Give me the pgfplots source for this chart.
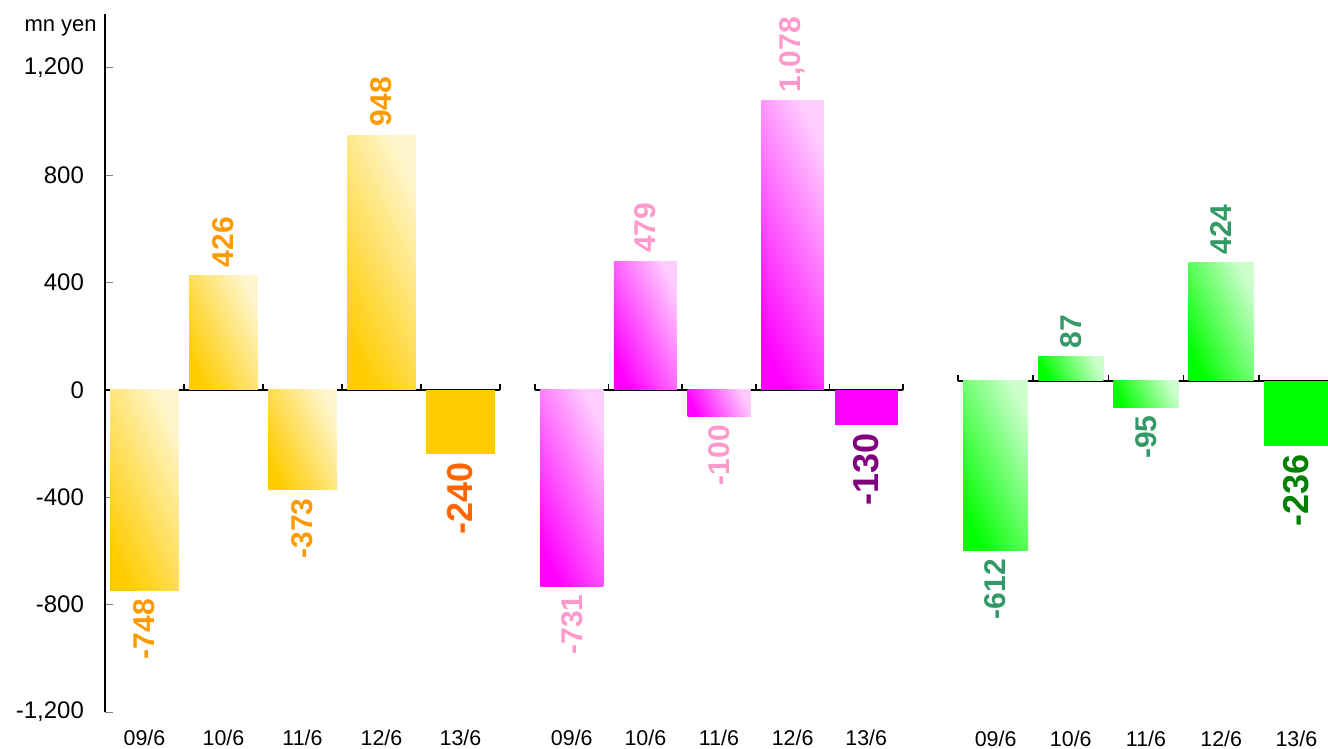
\documentclass[border=0pt]{standalone}
\usepackage{fontspec}
\setmainfont{Liberation Sans}
\usepackage{pgfplots}
\pgfplotsset{compat=1.18}
\definecolor{y1}{HTML}{FFCC00}
\definecolor{y2}{HTML}{FFF6CF}
\definecolor{m1}{HTML}{FF00FF}
\definecolor{m2}{HTML}{FFCCFF}
\definecolor{g1}{HTML}{00FF00}
\definecolor{g2}{HTML}{CCFFCC}
\definecolor{labO}{HTML}{FF9900}
\definecolor{labO2}{HTML}{FF6600}
\definecolor{labP}{HTML}{FF99CC}
\definecolor{labP2}{HTML}{800080}
\definecolor{labG}{HTML}{339966}
\definecolor{labG2}{HTML}{008000}
\tikzset{
  smlab/.style={font=\bfseries\fontsize{15}{18}\selectfont},
  biglab/.style={font=\bfseries\fontsize{18}{21}\selectfont},
}
\pgfplotsset{
  base/.style={
    scale only axis, anchor=south west, clip=false,
    xmin=-0.5, xmax=4.5,
    axis x line=middle,
    xtick={0,1,2,3,4}, xticklabels={09/6,10/6,11/6,12/6,13/6},
    minor xtick={-0.5,0.5,1.5,2.5,3.5,4.5},
    major x tick style={draw=none},
    minor x tick style={line width=0.8pt, black},
    minor tick length=3pt,
    xtick align=inside,
    hide obscured x ticks=false,
    hide obscured y ticks=false,
    /pgf/number format/.cd, 1000 sep={,}, assume math mode=true, /pgfplots/.cd,
  },
  gbar/.style 2 args={ybar, bar shift=0pt, draw=none, top color=#2, bottom color=#1, shading angle=-65},
  sbar/.style={ybar, bar shift=0pt, draw=none, fill=#1},
  posl/.style={nodes near coords, nodes near coords style={rotate=90, anchor=west, inner sep=4pt, text=#1, smlab}},
  negl/.style={nodes near coords, nodes near coords style={rotate=90, anchor=east, inner sep=4pt, text=#1, smlab}},
  negbig/.style={nodes near coords, nodes near coords style={rotate=90, anchor=east, inner sep=4pt, text=#1, biglab}},
}
\begin{document}
\begin{tikzpicture}
% ---------- group 1 ----------
\begin{axis}[base, at={(52.5pt,18.5pt)}, width=197.5pt, height=349pt,
  ymin=-1200, ymax=1400,
  axis y line=left,
  axis line style={-, line width=0.9pt},
  ytick={-1200,-800,-400,0,400,800,1200},
  ytick align=inside, major tick length=4pt,
  yticklabel style={font=\fontsize{12}{14}\selectfont, xshift=-7pt},
  xticklabel style={font=\fontsize{10.7}{12}\selectfont, anchor=base, yshift=-178pt},
  bar width=0.87]
\addplot[gbar={y1}{y2}, negl=labO] coordinates {(0,-748)};
\addplot[gbar={y1}{y2}, posl=labO] coordinates {(1,426)};
\addplot[gbar={y1}{y2}, negl=labO] coordinates {(2,-373)};
\addplot[gbar={y1}{y2}, posl=labO] coordinates {(3,948)};
\addplot[sbar=y1, negbig=labO2] coordinates {(4,-240)};
\node[anchor=east, inner sep=0pt, font=\fontsize{11}{13}\selectfont] at (axis description cs:-0.02,0.98) {mn yen};
\end{axis}
% ---------- group 2 ----------
\begin{axis}[base, at={(267.5pt,18.5pt)}, width=184pt, height=349pt,
  ymin=-1200, ymax=1400,
  axis y line=none, ytick=\empty,
  axis line style={-, line width=0.9pt},
  xticklabel style={font=\fontsize{10.7}{12}\selectfont, anchor=base, yshift=-178pt},
  bar width=0.856]
\addplot[gbar={m1}{m2}, negl=labP] coordinates {(0,-731)};
\addplot[gbar={m1}{m2}, posl=labP] coordinates {(1,479)};
\addplot[gbar={m1}{m2}, negl=labP] coordinates {(2,-100)};
\addplot[gbar={m1}{m2}, posl=labP] coordinates {(3,1078)};
\addplot[sbar=m1, negbig=labP2] coordinates {(4,-130)};
\end{axis}
% ---------- group 3 ----------
\begin{axis}[base, at={(479pt,18.5pt)}, width=188pt, height=349pt,
  ymin=-1192, ymax=1319,
  axis y line=none, ytick=\empty,
  axis line style={-, line width=0.9pt},
  xticklabel style={font=\fontsize{10.7}{12}\selectfont, anchor=base, yshift=-182.7pt},
  bar width=0.865]
\addplot[gbar={g1}{g2}, negl=labG] coordinates {(0,-612)};
\addplot[gbar={g1}{g2}, posl=labG] coordinates {(1,87)};
\addplot[gbar={g1}{g2}, negl=labG] coordinates {(2,-95)};
\addplot[gbar={g1}{g2}, posl=labG] coordinates {(3,424)};
\addplot[sbar=g1, negbig=labG2] coordinates {(4,-236)};
\end{axis}
\pgfresetboundingbox
\path[use as bounding box] (0,0) rectangle (664pt,374.5pt);
\end{tikzpicture}
\end{document}
